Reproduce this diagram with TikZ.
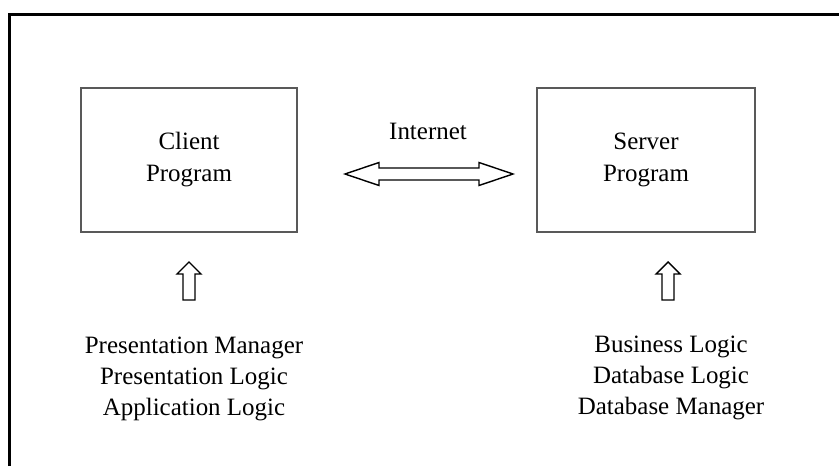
\documentclass[tikz,border=0pt]{standalone}
\usepackage{fontspec}
\setmainfont{Liberation Serif}
\begin{document}
\begin{tikzpicture}[x=1cm, y=1cm, caja/.style={draw=black!65, line width=0.6pt, minimum width=4.32cm, minimum height=2.88cm, inner sep=0pt, align=center, font=\fontsize{14.2}{18.2}\selectfont}, texto/.style={inner sep=0pt, align=center, font=\fontsize{14.2}{17.6}\selectfont}, flecha/.style={draw=black, line width=0.8pt, fill=white, line join=miter}]
        \useasboundingbox (0,0) rectangle (16.78,9.32);
        % marco
        \draw[line width=1.5pt] (0.186,0) -- (0.186,9.026) -- (16.78,9.026);
        % programas
        \node[caja] (cliente) at (3.78, 6.12) {Client\\Program};
        \node[caja, minimum width=4.36cm] (servidor) at (12.92, 6.12) {Server\\Program};
        \node[texto] (internet) at (8.56, 6.69) {Internet};
        % flecha doble entre programas
        \coordinate (izq) at (6.9, 5.84);
        \coordinate (der) at (10.26, 5.84);
        \draw[flecha] (izq) -- ++(0.68,0.23) -- ++(0,-0.11) -- ++(2.0,0) -- ++(0,0.11) -- (der) -- ++(-0.68,-0.23) -- ++(0,0.11) -- ++(-2.0,0) -- ++(0,-0.11) -- cycle;
        % capas
        \node[texto] (capasc) at (3.88, 1.74) {Presentation Manager\\Presentation Logic\\Application Logic};
        \node[texto] (capass) at (13.42, 1.76) {Business Logic\\Database Logic\\Database Manager};
        % flechas hacia arriba
        \coordinate (puntac) at (3.78, 4.08);
        \coordinate (puntas) at (13.36, 4.08);
        \draw[flecha] (puntac) -- ++(0.24,-0.24) -- ++(-0.12,0) -- ++(0,-0.52) -- ++(-0.24,0) -- ++(0,0.52) -- ++(-0.12,0) -- cycle;
        \draw[flecha] (puntas) -- ++(0.24,-0.24) -- ++(-0.12,0) -- ++(0,-0.52) -- ++(-0.24,0) -- ++(0,0.52) -- ++(-0.12,0) -- cycle;
    \end{tikzpicture}
\end{document}
